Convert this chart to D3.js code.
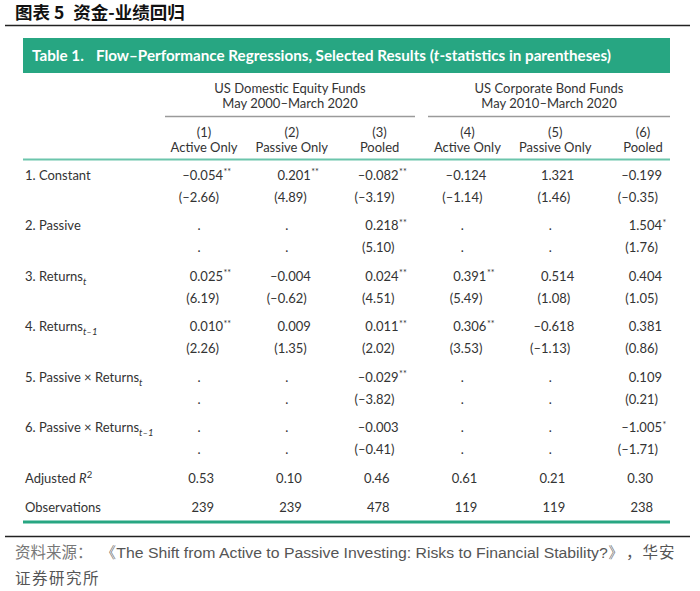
<!DOCTYPE html>
<html>
<head>
<meta charset="utf-8">
<script src="https://cdn.jsdelivr.net/npm/d3@7"></script>
<style>
  html, body { margin: 0; padding: 0; background: #fff; }
  svg { display: block; }
</style>
</head>
<body>
<svg id="chart" width="700" height="591"></svg>
<script>
// ---------- data ----------
const figureTitleA = "图表 5";
const figureTitleB = "资金-业绩回归";
const tableNo = "Table 1.";
const tableTitleA = "Flow–Performance Regressions, Selected Results (";
const tableTitleT = "t";
const tableTitleB = "-statistics in parentheses)";

const groupNames = ["US Domestic Equity Funds", "US Corporate Bond Funds"];
const groupPeriods = ["May 2000–March 2020", "May 2010–March 2020"];
const colNums = ["(1)", "(2)", "(3)", "(4)", "(5)", "(6)"];
const colNames = ["Active Only", "Passive Only", "Pooled", "Active Only", "Passive Only", "Pooled"];

// row labels: [main text, subscript]
const rowLabels = [
  ["1. Constant", ""],
  ["2. Passive", ""],
  ["3. Returns", "t"],
  ["4. Returns", "t–1"],
  ["5. Passive × Returns", "t"],
  ["6. Passive × Returns", "t–1"]
];

const coef = [
  [-0.054, 0.201, -0.082, -0.124, 1.321, -0.199],
  [null, null, 0.218, null, null, 1.504],
  [0.025, -0.004, 0.024, 0.391, 0.514, 0.404],
  [0.010, 0.009, 0.011, 0.306, -0.618, 0.381],
  [null, null, -0.029, null, null, 0.109],
  [null, null, -0.003, null, null, -1.005]
];
const tstat = [
  [-2.66, 4.89, -3.19, -1.14, 1.46, -0.35],
  [null, null, 5.10, null, null, 1.76],
  [6.19, -0.62, 4.51, 5.49, 1.08, 1.05],
  [2.26, 1.35, 2.02, 3.53, -1.13, 0.86],
  [null, null, -3.82, null, null, 0.21],
  [null, null, -0.41, null, null, -1.71]
];
const stars = [
  ["**", "**", "**", "", "", ""],
  ["", "", "**", "", "", "*"],
  ["**", "", "**", "**", "", ""],
  ["**", "", "**", "**", "", ""],
  ["", "", "**", "", "", ""],
  ["", "", "", "", "", "*"]
];
const adjR2 = [0.53, 0.10, 0.46, 0.61, 0.21, 0.30];
const observations = [239, 239, 478, 119, 119, 238];

const sourceLabel = "资料来源：";
const sourceText = "《The Shift from Active to Passive Investing: Risks to Financial Stability?》";
const sourceTail1 = "，华安";
const sourceTail2 = "证券研究所";

// ---------- drawing ----------
const svg = d3.select("#chart");
const FONT = "Lato, 'Open Sans', sans-serif";
const TXT = "#333";
const GREEN = "#27a682";

const fmtNum = (v, d) => (v < 0 ? "–" : "") + Math.abs(v).toFixed(d);

// scales
const x = d3.scalePoint().domain(d3.range(colNames.length)).range([204, 643]);
const rowKeys = rowLabels.map((d, i) => "r" + i).concat(["r2adj"]);
const y = d3.scalePoint().domain(rowKeys).range([175, 478]);
const yObs = 507;
const tOffset = 22;

// figure title
const ft = svg.append("text")
  .attr("x", 15).attr("y", 19)
  .attr("font-family", "'Noto Sans CJK SC', sans-serif")
  .attr("font-weight", "bold").attr("font-size", 17.5).attr("fill", "#111");
ft.append("tspan").text(figureTitleA);
ft.append("tspan").attr("dx", 9).text(figureTitleB);

svg.append("line").attr("x1", 5).attr("x2", 690).attr("y1", 25.5).attr("y2", 25.5)
  .attr("stroke", "#222").attr("stroke-width", 1.3);

// green title box
svg.append("rect").attr("x", 23).attr("y", 38).attr("width", 647).attr("height", 35)
  .attr("fill", GREEN);
svg.append("text").attr("x", 32).attr("y", 61)
  .attr("font-family", FONT).attr("font-weight", "bold").attr("font-size", 15.2)
  .attr("fill", "#fff").text(tableNo);
const tt = svg.append("text").attr("x", 96).attr("y", 61)
  .attr("font-family", FONT).attr("font-weight", "bold").attr("font-size", 15.2)
  .attr("fill", "#fff");
tt.append("tspan").text(tableTitleA);
tt.append("tspan").attr("font-style", "italic").text(tableTitleT);
tt.append("tspan").text(tableTitleB);

// group headers
const groupSpans = [[165, 415], [428, 670]];
groupNames.forEach((g, i) => {
  const cx = (groupSpans[i][0] + groupSpans[i][1]) / 2;
  svg.append("text").attr("x", cx).attr("y", 88).attr("dy", "0.35em")
    .attr("text-anchor", "middle").attr("font-family", FONT).attr("font-size", 13)
    .attr("fill", TXT).text(g);
  svg.append("text").attr("x", cx).attr("y", 103).attr("dy", "0.35em")
    .attr("text-anchor", "middle").attr("font-family", FONT).attr("font-size", 13)
    .attr("fill", TXT).text(groupPeriods[i]);
  svg.append("line").attr("x1", groupSpans[i][0]).attr("x2", groupSpans[i][1])
    .attr("y1", 116.5).attr("y2", 116.5).attr("stroke", "#9a9a9a").attr("stroke-width", 1.5);
});

// column headers
const colG = svg.append("g");
colG.selectAll("text.num").data(colNums).join("text")
  .attr("x", (d, i) => x(i)).attr("y", 132).attr("dy", "0.35em")
  .attr("text-anchor", "middle").attr("font-family", FONT).attr("font-size", 13)
  .attr("fill", TXT).text(d => d);
colG.selectAll("text.name").data(colNames).join("text")
  .attr("x", (d, i) => x(i)).attr("y", 147).attr("dy", "0.35em")
  .attr("text-anchor", "middle").attr("font-family", FONT).attr("font-size", 13)
  .attr("fill", TXT).text(d => d);

svg.append("line").attr("x1", 23).attr("x2", 670).attr("y1", 159.5).attr("y2", 159.5)
  .attr("stroke", "#6cc5ac").attr("stroke-width", 2);

// row labels
rowLabels.forEach((r, i) => {
  const t = svg.append("text").attr("x", 25).attr("y", y("r" + i)).attr("dy", "0.35em")
    .attr("font-family", FONT).attr("font-size", 13).attr("fill", TXT);
  t.append("tspan").text(r[0]);
  if (r[1]) {
    t.append("tspan").attr("font-style", "italic").attr("font-size", 9.5)
      .attr("dy", 4).text(r[1]);
  }
});
{
  const t = svg.append("text").attr("x", 25).attr("y", y("r2adj")).attr("dy", "0.35em")
    .attr("font-family", FONT).attr("font-size", 13).attr("fill", TXT);
  t.append("tspan").text("Adjusted ");
  t.append("tspan").attr("font-style", "italic").text("R");
  t.append("tspan").attr("font-size", 9.5).attr("dy", -5).text("2");
}
svg.append("text").attr("x", 25).attr("y", yObs).attr("dy", "0.35em")
  .attr("font-family", FONT).attr("font-size", 13).attr("fill", TXT).text("Observations");

// cells
const cellG = svg.append("g").attr("font-family", FONT).attr("font-size", 13).attr("fill", TXT);
coef.forEach((row, ri) => {
  row.forEach((v, ci) => {
    const cy = y("r" + ri);
    if (v === null) {
      cellG.append("text").attr("x", x(ci) - 5).attr("y", cy).attr("dy", "0.35em")
        .attr("text-anchor", "middle").text(".");
      cellG.append("text").attr("x", x(ci) - 5).attr("y", cy + tOffset).attr("dy", "0.35em")
        .attr("text-anchor", "middle").text(".");
      return;
    }
    cellG.append("text").attr("x", x(ci) + 19).attr("y", cy).attr("dy", "0.35em")
      .attr("text-anchor", "end").text(fmtNum(v, 3));
    if (stars[ri][ci]) {
      cellG.append("text").attr("x", x(ci) + 19.5).attr("y", cy - 3).attr("dy", "0.35em")
        .attr("font-size", 9).text(stars[ri][ci]);
    }
    cellG.append("text").attr("x", x(ci) + 15).attr("y", cy + tOffset).attr("dy", "0.35em")
      .attr("text-anchor", "end").text("(" + fmtNum(tstat[ri][ci], 2) + ")");
  });
});
adjR2.forEach((v, ci) => {
  cellG.append("text").attr("x", x(ci) + 10).attr("y", y("r2adj")).attr("dy", "0.35em")
    .attr("text-anchor", "end").text(v.toFixed(2));
});
observations.forEach((v, ci) => {
  cellG.append("text").attr("x", x(ci) + 10).attr("y", yObs).attr("dy", "0.35em")
    .attr("text-anchor", "end").text(v);
});

// bottom rules
svg.append("line").attr("x1", 23).attr("x2", 670).attr("y1", 522).attr("y2", 522)
  .attr("stroke", GREEN).attr("stroke-width", 3);
svg.append("line").attr("x1", 5).attr("x2", 690).attr("y1", 536.5).attr("y2", 536.5)
  .attr("stroke", "#222").attr("stroke-width", 1.3);

// source
svg.append("text").attr("x", 15).attr("y", 558)
  .attr("font-family", "'Noto Sans CJK SC', sans-serif").attr("font-size", 15.5)
  .attr("fill", "#777").text(sourceLabel);
svg.append("text").attr("x", 100).attr("y", 558)
  .attr("font-family", "'Liberation Sans Narrow', 'Arial Narrow', 'Liberation Sans', sans-serif")
  .attr("font-size", 15.5).attr("fill", "#555")
  .attr("textLength", 524).attr("lengthAdjust", "spacingAndGlyphs")
  .text(sourceText);
svg.append("text").attr("x", 626).attr("y", 558)
  .attr("font-family", "'Noto Sans CJK SC', sans-serif").attr("font-size", 15.5)
  .attr("fill", "#555").attr("letter-spacing", 1).text(sourceTail1);
svg.append("text").attr("x", 15).attr("y", 584)
  .attr("font-family", "'Noto Sans CJK SC', sans-serif").attr("font-size", 15.5)
  .attr("fill", "#555").attr("letter-spacing", 1.5).text(sourceTail2);
</script>
</body>
</html>
